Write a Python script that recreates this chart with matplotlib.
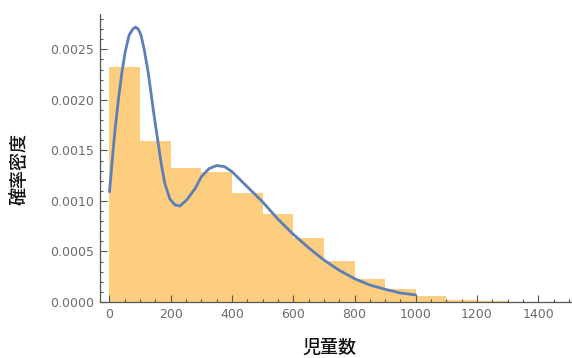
import numpy as np
import matplotlib
matplotlib.use('Agg')
import matplotlib.pyplot as plt
from matplotlib.ticker import MultipleLocator

## histogram bins (width 100) and heights
bin_edges = [0, 100, 200, 300, 400, 500, 600, 700, 800, 900, 1000, 1100, 1200, 1300, 1400]
bin_heights = [0.00233, 0.00159, 0.00133, 0.00129, 0.00108, 0.000868, 0.00063, 0.000406,
               0.000225, 0.000133, 0.000056, 0.000022, 0.000006, 0.000005]

## density curve points
curve_x = [0, 9, 18, 29, 40, 51, 64, 76, 85, 94, 103, 114, 127, 143, 159, 170, 181, 197,
           214, 230, 252, 279, 300, 325, 350, 375, 400, 450, 500, 550, 600, 650, 700, 750,
           800, 850, 900, 950, 1000]
curve_y = [0.00109, 0.00140, 0.00170, 0.00200, 0.00226, 0.00247, 0.00264, 0.00270, 0.00272,
           0.00270, 0.00264, 0.00249, 0.00226, 0.00190, 0.00157, 0.00135, 0.00117, 0.00102,
           0.00096, 0.00095, 0.00101, 0.00112, 0.00124, 0.00132, 0.00135, 0.00134, 0.00129,
           0.00114, 0.00099, 0.00082, 0.00067, 0.000537, 0.000416, 0.000314, 0.000231,
           0.000168, 0.000126, 0.000089, 0.000070]

plt.rcParams['font.family'] = ['Noto Sans CJK JP', 'DejaVu Sans']

fig = plt.figure(figsize=(5.72, 3.58), dpi=100)
ax = fig.add_axes([0.1748, 0.1564, 0.823, 0.8046])

widths = np.diff(bin_edges)
ax.bar(bin_edges[:-1], bin_heights, width=widths, align='edge', color='#fdcd80', linewidth=0)
ax.plot(curve_x, curve_y, color='#5b7fb6', lw=2, solid_capstyle='round', solid_joinstyle='round')

ax.set_xlim(-31, 1506)
ax.set_ylim(0, 0.00285)

for s in ['top', 'right']:
    ax.spines[s].set_visible(False)
for s in ['left', 'bottom']:
    ax.spines[s].set_color('#555555')
    ax.spines[s].set_linewidth(0.9)

ax.xaxis.set_major_locator(MultipleLocator(200))
ax.xaxis.set_minor_locator(MultipleLocator(50))
ax.yaxis.set_major_locator(MultipleLocator(0.0005))
ax.yaxis.set_minor_locator(MultipleLocator(0.0001))
ax.yaxis.set_major_formatter(plt.FuncFormatter(lambda v, p: '%.4f' % v))

ax.tick_params(which='both', direction='in', colors='#555555', labelcolor='#6b6b6b',
               labelsize=9, width=0.8)
ax.tick_params(which='major', length=5, pad=4)
ax.tick_params(which='minor', length=2.5)
for lab in ax.get_xticklabels() + ax.get_yticklabels():
    lab.set_family(['DejaVu Sans'])

ax.set_xlabel('児童数', fontsize=13, fontweight='medium', color='#111111')
ax.set_ylabel('確率密度', fontsize=13, fontweight='medium', color='#111111')
ax.xaxis.set_label_coords(0.488, -0.128)
ax.yaxis.set_label_coords(-0.152, 0.462)

fig.savefig('out.png', dpi=100)
